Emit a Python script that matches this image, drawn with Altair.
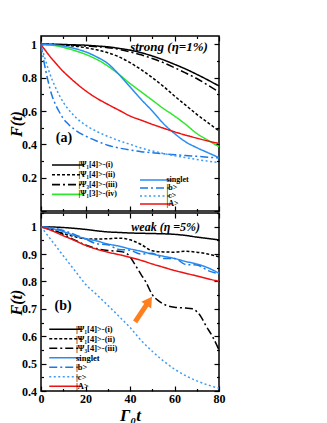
import altair as alt
import pandas as pd

# ---------------- data ----------------
T = [0, 5, 10, 15, 20, 25, 30, 35, 40, 45, 50, 55, 60, 65, 70, 75, 80]
TF = [0, 1, 2, 3, 4, 5, 6, 8, 10, 12, 15, 20, 25, 30, 35, 40, 45, 50, 55, 60, 65, 70, 75, 80]

# panel (a): strong (eta = 1%)
a_i = [1, 1.0, 0.999, 0.997, 0.995, 0.99, 0.985, 0.976, 0.965, 0.95, 0.93, 0.907, 0.88, 0.852, 0.82, 0.786, 0.75]
a_ii = [1, 0.998, 0.995, 0.99, 0.98, 0.967, 0.95, 0.925, 0.89, 0.848, 0.8, 0.748, 0.69, 0.635, 0.58, 0.53, 0.48]
a_iii = [1, 1.0, 0.998, 0.995, 0.99, 0.986, 0.98, 0.97, 0.955, 0.937, 0.915, 0.89, 0.86, 0.828, 0.795, 0.755, 0.715]
a_iv = [1, 0.995, 0.982, 0.963, 0.94, 0.91, 0.87, 0.82, 0.765, 0.715, 0.665, 0.615, 0.57, 0.52, 0.465, 0.425, 0.385]
a_singlet = [1, 0.997, 0.99, 0.975, 0.955, 0.925, 0.885, 0.82, 0.745, 0.67, 0.6, 0.525, 0.465, 0.415, 0.38, 0.35, 0.32]
a_b = [1, 0.92, 0.85, 0.79, 0.735, 0.69, 0.655, 0.6, 0.555, 0.525, 0.49, 0.45, 0.42, 0.395, 0.378, 0.366,
       0.356, 0.349, 0.343, 0.338, 0.333, 0.328, 0.323, 0.318]
a_c = [1, 0.95, 0.905, 0.862, 0.823, 0.788, 0.757, 0.7, 0.652, 0.615, 0.57, 0.515, 0.478, 0.448, 0.422, 0.4,
       0.378, 0.36, 0.345, 0.332, 0.32, 0.309, 0.299, 0.29]
a_A = [1, 0.98, 0.963, 0.945, 0.928, 0.912, 0.897, 0.866, 0.837, 0.812, 0.776, 0.722, 0.677, 0.64, 0.605, 0.57,
       0.545, 0.52, 0.497, 0.475, 0.455, 0.437, 0.42, 0.405]

# panel (b): weak (eta = 5%)
T3 = [0, 5, 10, 15, 20, 25, 30, 35, 38, 40, 42, 45, 47, 50, 53, 56, 60, 65, 68, 70, 72, 74, 77, 80]
b_i = [1, 0.999, 0.997, 0.994, 0.99, 0.985, 0.981, 0.979, 0.977, 0.976, 0.975, 0.974, 0.972, 0.968, 0.962, 0.957, 0.952]
b_ii = [1, 0.988, 0.975, 0.964, 0.956, 0.955, 0.956, 0.958, 0.952, 0.935, 0.912, 0.908, 0.907, 0.91, 0.907, 0.9, 0.89]
b_iii = [1, 0.99, 0.972, 0.952, 0.933, 0.92, 0.913, 0.91, 0.905, 0.89, 0.865, 0.825, 0.8, 0.752, 0.728, 0.714,
         0.706, 0.703, 0.7, 0.69, 0.67, 0.64, 0.6, 0.55]
b_singlet = [1, 0.993, 0.982, 0.968, 0.957, 0.948, 0.937, 0.929, 0.919, 0.91, 0.9, 0.892, 0.884, 0.873, 0.864, 0.85, 0.83]
b_b = [1, 0.996, 0.986, 0.972, 0.955, 0.938, 0.934, 0.917, 0.914, 0.9, 0.903, 0.884, 0.884, 0.862, 0.86, 0.84, 0.828]
b_c = [1, 0.947, 0.894, 0.842, 0.79, 0.752, 0.713, 0.673, 0.632, 0.585, 0.545, 0.51, 0.48, 0.456, 0.437, 0.422, 0.41]
b_A = [1, 0.985, 0.967, 0.95, 0.932, 0.918, 0.907, 0.898, 0.888, 0.877, 0.864, 0.852, 0.84, 0.83, 0.82, 0.81, 0.8]

# series names (legend labels)
N_I = "|Ψ₁[4]>-(i)"
N_II = "|Ψ₁[4]>-(ii)"
N_III = "|Ψ₃[4]>-(iii)"
N_IV = "|Ψ₁[3]>-(iv)"
N_S = "singlet"
N_B = "|b>"
N_C = "|c>"
N_A = "|A>"

# annotations
strong_text = ["strong (η=1%)"]
strong_t = [75.0]
strong_F = [0.982]
weak_text = ["weak (η =5%)"]
weak_t = [71.5]
weak_F = [0.999]
a_label = ["(a)"]
a_label_t = [10.3]
a_label_F = [0.44]
b_label = ["(b)"]
b_label_t = [9.9]
b_label_F = [0.712]
arrow_t = [42.3]
arrow_F = [0.652]
arrow_t2 = [47.7]
arrow_F2 = [0.718]
head_t = [48.6]
head_F = [0.729]

# tick values
XT = [0, 10, 20, 30, 40, 50, 60, 70, 80]
YT_top = [round(0.1 * k, 1) for k in range(0, 11)]
YT_bot = [round(0.4 + 0.05 * k, 2) for k in range(0, 14)]

# ---------------- styles ----------------
BLACK = "#000000"
GREEN = "#2ee82e"
BLUE = "#2b8cf0"
BLUE2 = "#1a78e6"
LBLUE = "#3c9cf7"
RED = "#ee1111"
SOLID = [1, 0]
DOT = [3, 2]
DASHDOT = [8, 3, 2, 3]
LDOT = [2, 2.5]

FONT = "Liberation Serif"


def frame(t, f, name):
    return pd.DataFrame({"t": t, "F": f, "series": name})


dfA1 = pd.concat([frame(T, a_i, N_I), frame(T, a_ii, N_II), frame(T, a_iii, N_III), frame(T, a_iv, N_IV)])
dfA2 = pd.concat([frame(T, a_singlet, N_S), frame(TF, a_b, N_B), frame(TF, a_c, N_C), frame(TF, a_A, N_A)])
dfB = pd.concat([frame(T, b_i, N_I), frame(T, b_ii, N_II), frame(T3, b_iii, N_III),
                 frame(T, b_singlet, N_S), frame(T, b_b, N_B), frame(T, b_c, N_C), frame(T, b_A, N_A)])

W = 178
H_TOP = 175
H_BOT = 178

xscale = alt.Scale(domain=[0, 80], nice=False, zero=False)
ytop = alt.Scale(domain=[0, 1.05], nice=False, zero=False)
ybot = alt.Scale(domain=[0.4, 1.05], nice=False, zero=False)

x_major = "datum.value % 20 === 0"
ytop_major = "abs(datum.value*5 - round(datum.value*5)) < 0.001"
ybot_major = "abs(datum.value*10 - round(datum.value*10)) < 0.001"


def tsize(test):
    return {"condition": {"test": test, "value": -5}, "value": -2.5}


# legends are placed relative to the top panel's plot origin
def leg(x, y, fs, rp, off):
    return alt.Legend(title=None, orient="none", legendX=x, legendY=y,
                      symbolType="M0,0H16", symbolSize=16, symbolStrokeWidth=1.6,
                      labelFont=FONT, labelFontWeight="bold", labelFontSize=fs,
                      labelColor="black", rowPadding=rp, labelOffset=off, padding=0,
                      labelLimit=200)


def lines(df, names, colors, dashes, ysc, xaxis, yaxis, legend):
    return alt.Chart(df).mark_line(strokeWidth=1.5, interpolate="monotone").encode(
        x=alt.X("t:Q", scale=xscale, axis=xaxis),
        y=alt.Y("F:Q", scale=ysc, axis=yaxis),
        color=alt.Color("series:N", scale=alt.Scale(domain=names, range=colors), legend=legend),
        strokeDash=alt.StrokeDash("series:N", scale=alt.Scale(domain=names, range=dashes), legend=legend),
    )


def mirror(ysc, yvals, ytest):
    return alt.Chart(pd.DataFrame({"t": [0], "F": [1]})).mark_point(opacity=0).encode(
        x=alt.X("t:Q", scale=xscale, axis=alt.Axis(orient="top", values=XT, labels=False, title=None,
                                                   domain=False, tickSize=tsize(x_major),
                                                   minExtent=0, maxExtent=0)),
        y=alt.Y("F:Q", scale=ysc, axis=alt.Axis(orient="right", values=yvals, labels=False, title=None,
                                                domain=False, tickSize=tsize(ytest),
                                                minExtent=0, maxExtent=0)),
    )


def text_layer(texts, ts, fs_, ysc, size, style, align):
    return alt.Chart(pd.DataFrame({"t": ts, "F": fs_, "txt": texts})).mark_text(
        font=FONT, fontSize=size, fontWeight="bold", fontStyle=style, align=align, baseline="middle",
        color="black").encode(
        x=alt.X("t:Q", scale=xscale, axis=None),
        y=alt.Y("F:Q", scale=ysc, axis=None),
        text="txt:N",
    )


# ---------------- top panel ----------------
top_x_axis = alt.Axis(values=XT, labels=False, title=None, domain=False, tickSize=tsize(x_major),
                      minExtent=0, maxExtent=0)
top_y_axis = alt.Axis(values=YT_top, format=".1~f",
                      labelExpr=f"({ytop_major}) && datum.value > 0 ? datum.label : ''",
                      title="F(t)", domain=False, tickSize=tsize(ytop_major), labelPadding=9.5,
                      titlePadding=-3, titleFontSize=16)

topA = lines(dfA1, [N_I, N_II, N_III, N_IV], [BLACK, BLACK, BLACK, GREEN], [SOLID, DOT, DASHDOT, SOLID],
             ytop, top_x_axis, top_y_axis, leg(7, 125, 8, 1.8, 22.5))
topB = lines(dfA2, [N_S, N_B, N_C, N_A], [BLUE, BLUE2, LBLUE, RED], [SOLID, DASHDOT, LDOT, SOLID],
             ytop, None, None, leg(95, 140, 8, -0.2, 22.5))

top = alt.layer(
    topA, topB, mirror(ytop, YT_top, ytop_major),
    text_layer(strong_text, strong_t, strong_F, ytop, 13, "italic", "right"),
    text_layer(a_label, a_label_t, a_label_F, ytop, 14, "normal", "center"),
).resolve_scale(x="independent", y="independent", color="independent", strokeDash="independent"
                ).properties(width=W, height=H_TOP)

# ---------------- bottom panel ----------------
bot_x_axis = alt.Axis(values=XT, labelExpr=f"{x_major} ? datum.label : ''", title="Γ₀t", domain=False,
                      tickSize=tsize(x_major), labelFlush=False, labelPadding=7,
                      titleY=29, titleBaseline="alphabetic", titleFontSize=17)
bot_y_axis = alt.Axis(values=YT_bot, format=".1~f",
                      labelExpr=f"{ybot_major} ? datum.label : ''",
                      title="F(t)", domain=False, tickSize=tsize(ybot_major), labelPadding=9.5,
                      titlePadding=-3, titleFontSize=16)

botL = lines(dfB, [N_I, N_II, N_III, N_S, N_B, N_C, N_A],
             [BLACK, BLACK, BLACK, BLUE, BLUE2, LBLUE, RED],
             [SOLID, DOT, DASHDOT, SOLID, DASHDOT, LDOT, SOLID],
             ybot, bot_x_axis, bot_y_axis, leg(4, H_TOP + 114, 8.5, 0.5, 22.5))

arrow_df = pd.DataFrame({"t": arrow_t, "F": arrow_F, "t2": arrow_t2, "F2": arrow_F2})
arrow = alt.Chart(arrow_df).mark_rule(color="#ff7f1e", strokeWidth=5, strokeCap="butt").encode(
    x=alt.X("t:Q", scale=xscale, axis=None), y=alt.Y("F:Q", scale=ybot, axis=None),
    x2="t2:Q", y2="F2:Q")
head = alt.Chart(pd.DataFrame({"t": head_t, "F": head_F})).mark_point(
    shape="triangle-up", filled=True, color="#ff7f1e", opacity=1, size=140, angle=34).encode(
    x=alt.X("t:Q", scale=xscale, axis=None), y=alt.Y("F:Q", scale=ybot, axis=None))

bottom = alt.layer(
    botL, mirror(ybot, YT_bot, ybot_major), arrow, head,
    text_layer(weak_text, weak_t, weak_F, ybot, 12, "italic", "right"),
    text_layer(b_label, b_label_t, b_label_F, ybot, 14, "normal", "center"),
).resolve_scale(x="independent", y="independent").properties(width=W, height=H_BOT)

chart = alt.vconcat(top, bottom, spacing=-7).properties(
    padding={"left": -1, "top": 26, "right": 0, "bottom": 0}
).configure_view(stroke="black", strokeWidth=1.5).configure_axis(
    labelFont=FONT, labelFontWeight="bold", labelFontSize=12, labelColor="black",
    titleFont=FONT, titleFontWeight="bold", titleFontStyle="italic", titleFontSize=17, titleColor="black",
    tickColor="black", tickWidth=1.2, grid=False,
)

chart.save("out.html", embed_options={"renderer": "svg", "actions": False})
